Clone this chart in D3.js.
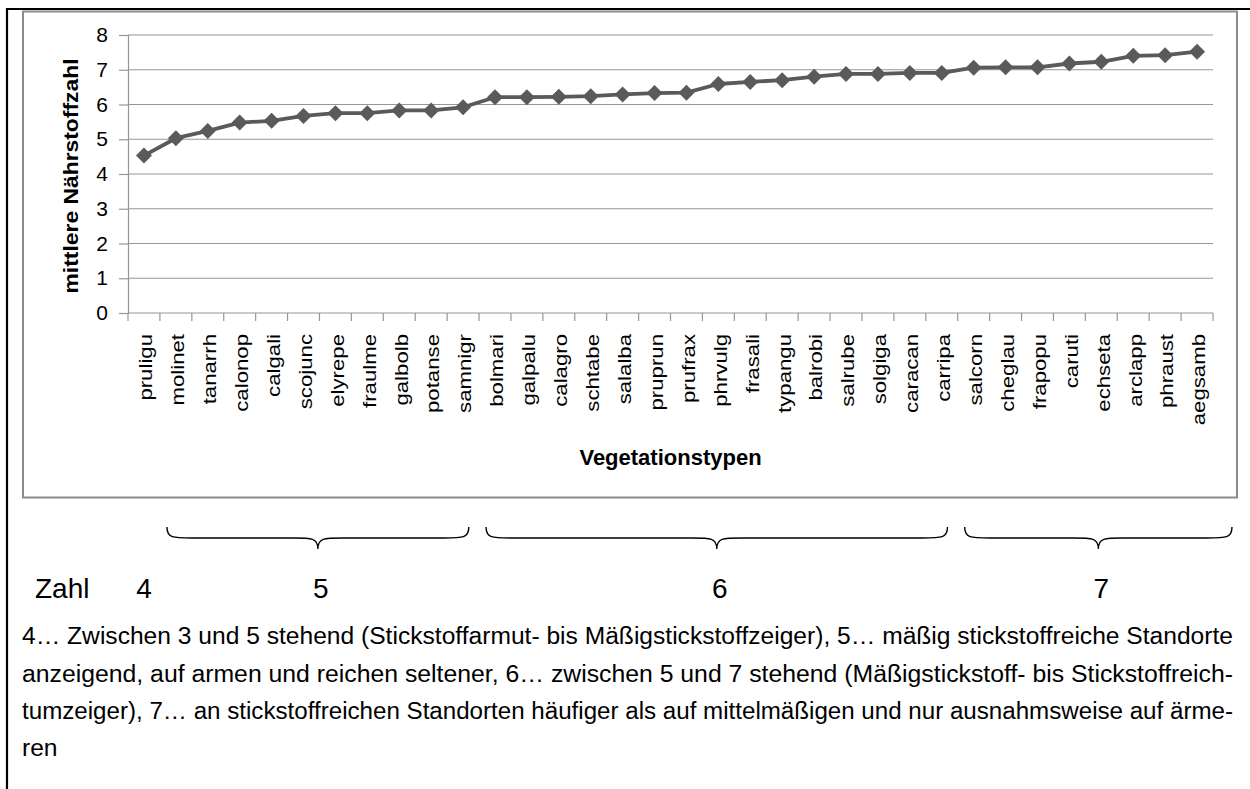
<!DOCTYPE html>
<html>
<head>
<meta charset="utf-8">
<script src="https://cdn.jsdelivr.net/npm/d3@7"></script>
<style>
  body { margin: 0; background: #fff; }
  text { font-family: Arial, "Liberation Sans", sans-serif; }
</style>
</head>
<body>
<div id="chart"></div>
<script>
// categories (Vegetationstypen) and mean nitrogen values
let categories = ["pruligu", "molinet", "tanarrh", "calonop", "calgali", "scojunc", "elyrepe",
  "fraulme", "galbolb", "potanse", "samnigr", "bolmari", "galpalu", "calagro", "schtabe",
  "salalba", "pruprun", "prufrax", "phrvulg", "frasali", "typangu", "balrobi", "salrube",
  "solgiga", "caracan", "carripa", "salcorn", "cheglau", "frapopu", "caruti", "echseta",
  "arclapp", "phraust", "aegsamb"];
let values = [4.53, 5.03, 5.24, 5.48, 5.53, 5.67, 5.75, 5.75, 5.83, 5.83, 5.92, 6.21, 6.21,
  6.22, 6.24, 6.29, 6.33, 6.34, 6.59, 6.65, 6.70, 6.80, 6.88, 6.88, 6.91, 6.91, 7.06, 7.07,
  7.07, 7.18, 7.23, 7.40, 7.42, 7.52];
let yTicks = [0, 1, 2, 3, 4, 5, 6, 7, 8];

// groups under the chart (Zahl)
let groupLabels = ["4", "5", "6", "7"];
let groupStart = ["pruligu", "molinet", "bolmari", "salcorn"];
let groupEnd = ["pruligu", "samnigr", "carripa", "aegsamb"];

let noteLines = [
  "4\u2026 Zwischen 3 und 5 stehend (Stickstoffarmut- bis Mäßigstickstoffzeiger), 5\u2026 mäßig stickstoffreiche Standorte",
  "anzeigend, auf armen und reichen seltener, 6\u2026 zwischen 5 und 7 stehend (Mäßigstickstoff- bis Stickstoffreich-",
  "tumzeiger), 7\u2026 an stickstoffreichen Standorten häufiger als auf mittelmäßigen und nur ausnahmsweise auf ärme-",
  "ren"
];

let boxWidth = 1250;
let boxHeight = 789;

let plot = { left: 128, right: 1213, top: 35, bottom: 313 };

let svg = d3.select("#chart")
  .append("svg")
  .attr("width", boxWidth)
  .attr("height", boxHeight);

svg.append("rect").attr("width", boxWidth).attr("height", boxHeight).attr("fill", "#fff");

// outer black frame (left + top)
svg.append("path")
  .attr("d", "M7,789 L7,9 L1250,9")
  .attr("fill", "none")
  .attr("stroke", "#000")
  .attr("stroke-width", 2.2);

// chart box
svg.append("rect")
  .attr("x", 23).attr("y", 11.5)
  .attr("width", 1214).attr("height", 486)
  .attr("fill", "#fff")
  .attr("stroke", "#8c8c8c")
  .attr("stroke-width", 2);

// scales
let x = d3.scaleBand()
  .domain(categories)
  .range([plot.left, plot.right]);

let y = d3.scaleLinear()
  .domain([0, 8])
  .range([plot.bottom, plot.top]);

let cx = d => x(d) + x.bandwidth() / 2;

// gridlines
svg.append("g")
  .selectAll("line")
  .data(yTicks.filter(t => t > 0))
  .enter()
  .append("line")
  .attr("x1", plot.left).attr("x2", plot.right)
  .attr("y1", d => y(d)).attr("y2", d => y(d))
  .attr("stroke", "#969696")
  .attr("stroke-width", 1.2);

// y axis
let yAxis = d3.axisLeft(y).tickValues(yTicks).tickSize(9).tickPadding(11);
let yG = svg.append("g")
  .attr("transform", `translate(${plot.left}, 0)`)
  .call(yAxis);
yG.select(".domain").attr("stroke", "#969696").attr("stroke-width", 1.2);
yG.selectAll(".tick line").attr("stroke", "#969696").attr("stroke-width", 1.2);
yG.selectAll(".tick text")
  .attr("font-size", 21)
  .attr("fill", "#000")
  .style("font-family", "Arial, 'Liberation Sans', sans-serif");

// x axis line and tick marks at band boundaries
svg.append("line")
  .attr("x1", plot.left).attr("x2", plot.right)
  .attr("y1", y(0)).attr("y2", y(0))
  .attr("stroke", "#969696").attr("stroke-width", 1.2);

let bounds = categories.map(c => x(c)).concat([plot.right]);
svg.append("g")
  .selectAll("line")
  .data(bounds)
  .enter()
  .append("line")
  .attr("x1", d => d).attr("x2", d => d)
  .attr("y1", y(0)).attr("y2", y(0) + 8)
  .attr("stroke", "#969696").attr("stroke-width", 1.2);

// category labels (rotated)
svg.append("g")
  .selectAll("text")
  .data(categories)
  .enter()
  .append("text")
  .attr("transform", d => `translate(${cx(d)}, 334) rotate(-90) scale(1.2, 1)`)
  .attr("text-anchor", "end")
  .attr("dy", "0.45em")
  .attr("font-size", 18.5)
  .attr("fill", "#000")
  .text(d => d);

// line + markers
let points = categories.map((c, i) => ({ cat: c, val: values[i] }));

let line = d3.line()
  .x(d => cx(d.cat))
  .y(d => y(d.val));

svg.append("path")
  .datum(points)
  .attr("d", line)
  .attr("fill", "none")
  .attr("stroke", "#5a5a5a")
  .attr("stroke-width", 3.8)
  .attr("stroke-linejoin", "round");

svg.append("g")
  .selectAll("path")
  .data(points)
  .enter()
  .append("path")
  .attr("d", "M0,-8 L8,0 L0,8 L-8,0 Z")
  .attr("transform", d => `translate(${cx(d.cat)}, ${y(d.val)})`)
  .attr("fill", "#5a5a5a");

// axis titles
svg.append("text")
  .attr("transform", "translate(78, 176) rotate(-90)")
  .attr("text-anchor", "middle")
  .attr("font-size", 21)
  .attr("font-weight", "bold")
  .attr("textLength", 235)
  .attr("lengthAdjust", "spacingAndGlyphs")
  .text("mittlere Nährstoffzahl");

svg.append("text")
  .attr("x", (plot.left + plot.right) / 2)
  .attr("y", 465)
  .attr("text-anchor", "middle")
  .attr("font-size", 22)
  .attr("font-weight", "bold")
  .text("Vegetationstypen");

// braces and group numbers
function bracePath(x0, x1, yTop, yMid, yTip) {
  let xm = (x0 + x1) / 2;
  return `M${x0},${yTop} C${x0},${yMid} ${x0 + 6},${yMid} ${x0 + 25},${yMid}` +
    ` L${xm - 25},${yMid} C${xm - 6},${yMid} ${xm},${yMid} ${xm},${yTip}` +
    ` C${xm},${yMid} ${xm + 6},${yMid} ${xm + 25},${yMid}` +
    ` L${x1 - 25},${yMid} C${x1 - 6},${yMid} ${x1},${yMid} ${x1},${yTop}`;
}

let step = x.step();
groupLabels.forEach((lab, i) => {
  let xs = cx(groupStart[i]);
  let xe = cx(groupEnd[i]);
  let mid = (xs + xe) / 2;
  if (groupStart[i] !== groupEnd[i]) {
    let left = xs - 0.28 * step;
    let right = i === groupLabels.length - 1 ? plot.right + 19 : xe + 0.18 * step;
    mid = (left + right) / 2;
    svg.append("path")
      .attr("d", bracePath(left, right, 527, 538, 549))
      .attr("fill", "none")
      .attr("stroke", "#000")
      .attr("stroke-width", 1.4);
  }
  svg.append("text")
    .attr("x", mid + (i === 0 ? 0 : 3))
    .attr("y", 598)
    .attr("text-anchor", "middle")
    .attr("font-size", 28)
    .text(lab);
});

svg.append("text")
  .attr("x", 35)
  .attr("y", 598)
  .attr("font-size", 28)
  .text("Zahl");

// note text: full lines fitted to the block width, last line at same scale
let noteLeft = 22, noteRight = 1233;
let noteG = svg.append("g");
let noteTexts = noteLines.map((ln, i) => noteG.append("text")
  .attr("x", noteLeft)
  .attr("y", 644 + i * 37.5)
  .attr("font-size", 23)
  .attr("fill", "#000")
  .text(ln));
let natural = noteTexts[0].node().getComputedTextLength();
let k = (noteRight - noteLeft) / natural;
noteTexts.forEach((t, i) => {
  if (i < noteLines.length - 1) {
    t.attr("textLength", noteRight - noteLeft)
      .attr("lengthAdjust", "spacingAndGlyphs");
  } else {
    t.attr("transform", `translate(${noteLeft}, 0) scale(${k}, 1) translate(${-noteLeft}, 0)`);
  }
});
</script>
</body>
</html>
